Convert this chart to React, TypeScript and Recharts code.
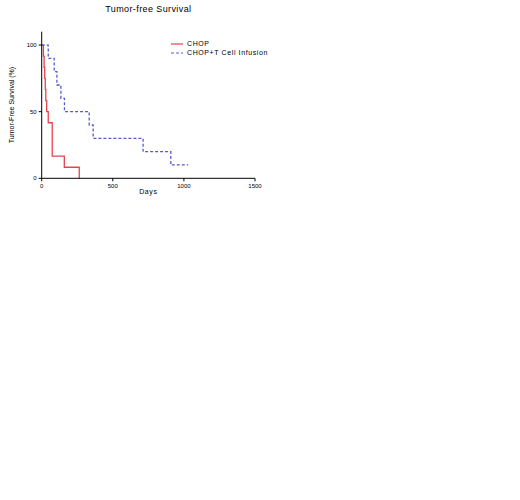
import { LineChart, Line, XAxis, YAxis } from "recharts";

// Kaplan-Meier style step data
const chopDays = [0, 12, 17, 21, 25, 29, 35, 46, 74, 159, 264];
const chopPct = [100, 91.7, 83.3, 75, 66.7, 58.3, 50, 41.7, 16.7, 8.3, 0];

const tcellDays = [0, 46, 88, 107, 135, 160, 334, 362, 713, 908, 1030];
const tcellPct = [100, 90, 80, 70, 60, 50, 40, 30, 20, 10, 10];

const xTicks = [0, 500, 1000, 1500];
const yTicks = [0, 50, 100];

const chopData = chopDays.map((day, i) => ({ day, pct: chopPct[i] }));
const tcellData = tcellDays.map((day, i) => ({ day, pct: tcellPct[i] }));

const series = [
  { name: "CHOP", data: chopData, color: "#e8424e", dash: undefined },
  { name: "CHOP+T Cell Infusion", data: tcellData, color: "#5a5ad0", dash: "3 2" },
];

const FONT = "'Liberation Sans', Arial, sans-serif";

// drawn outside the chart so it doesn't eat into the plot area
function LegendBox() {
  return (
    <div
      style={{
        position: "absolute",
        left: 171,
        top: 39,
        fontFamily: FONT,
        fontSize: 7,
        color: "#000",
        letterSpacing: 0.6,
      }}
    >
      {series.map((s) => (
        <div key={s.name} style={{ display: "flex", alignItems: "center", height: 9, whiteSpace: "nowrap" }}>
          <svg width={13} height={6} style={{ marginRight: 3 }}>
            <line x1={0} y1={3} x2={12} y2={3} stroke={s.color} strokeWidth={1.2} strokeDasharray={s.dash} />
          </svg>
          <span>{s.name}</span>
        </div>
      ))}
    </div>
  );
}

export default function App() {
  return (
    <div style={{ position: "absolute", left: 0, top: 0, width: 520, height: 500, background: "#fff" }}>
      <div
        style={{
          position: "absolute",
          left: 41.7,
          width: 213.3,
          top: 4,
          textAlign: "center",
          fontFamily: FONT,
          fontSize: 9,
          letterSpacing: 0.4,
          color: "#000",
        }}
      >
        Tumor-free Survival
      </div>
      <div style={{ position: "absolute", left: 0, top: 0 }}>
        <LineChart width={270} height={200} margin={{ top: 31.7, right: 15, left: 11.7, bottom: 5.7 }}>
          <XAxis
            type="number"
            dataKey="day"
            domain={[0, 1500]}
            ticks={xTicks}
            allowDuplicatedCategory={false}
            height={16}
            tickSize={3}
            tickMargin={2}
            tick={{ fontSize: 6, fill: "#000", fontFamily: FONT }}
            axisLine={{ stroke: "#000", strokeWidth: 1 }}
            tickLine={{ stroke: "#000" }}
            label={{
              value: "Days",
              position: "insideBottom",
              offset: 0,
              style: { fontSize: 7, fill: "#000", fontFamily: FONT, letterSpacing: 0.6 },
            }}
          />
          <YAxis
            type="number"
            dataKey="pct"
            domain={[0, 110]}
            ticks={yTicks}
            width={30}
            tickSize={3}
            tickMargin={2}
            tick={{ fontSize: 6, fill: "#000", fontFamily: FONT }}
            axisLine={{ stroke: "#000", strokeWidth: 1 }}
            tickLine={{ stroke: "#000" }}
            label={{
              value: "Tumor-Free Survival (%)",
              angle: -90,
              position: "insideLeft",
              offset: 0,
              style: { textAnchor: "middle", fontSize: 7, fill: "#000", fontFamily: FONT },
            }}
          />
          {series.map((s) => (
            <Line
              key={s.name}
              data={s.data}
              type="stepAfter"
              dataKey="pct"
              name={s.name}
              stroke={s.color}
              strokeWidth={1.3}
              strokeDasharray={s.dash}
              dot={false}
              isAnimationActive={false}
            />
          ))}
        </LineChart>
      </div>
      <LegendBox />
    </div>
  );
}
